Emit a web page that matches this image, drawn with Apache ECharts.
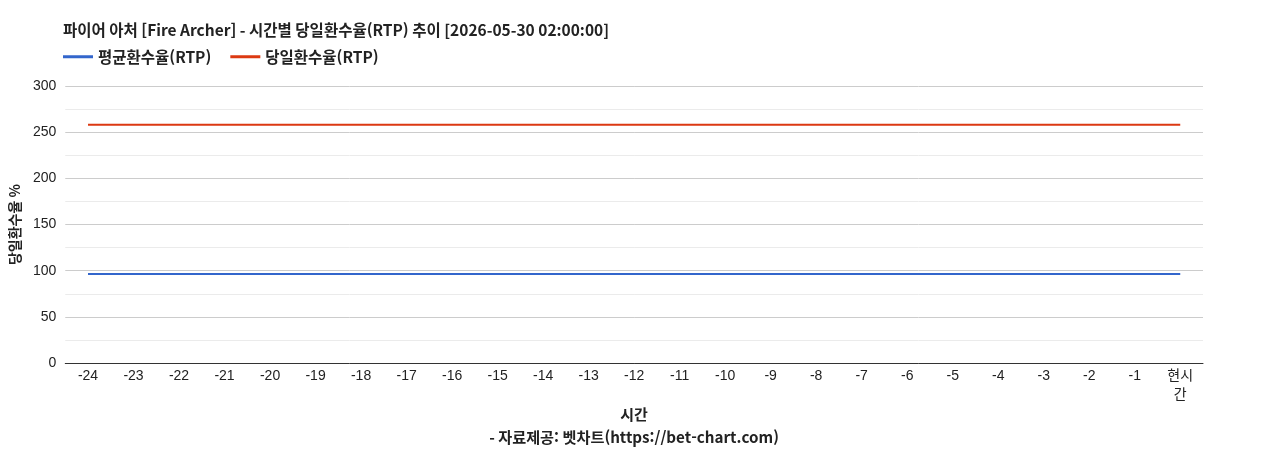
<!DOCTYPE html>
<html lang="ko">
<head>
  <meta charset="UTF-8">
  <title>RTP chart</title>
  <style>
    html, body, #chart {
      margin: 0;
      padding: 0;
      width: 100%;
      height: 100%;
      background: #fff;
    }
  </style>
</head>
<body>
<div id="chart"></div>

<script src="https://cdn.jsdelivr.net/npm/echarts@6/dist/echarts.min.js"></script>
<script>
  var hours = ['-24', '-23', '-22', '-21', '-20', '-19', '-18', '-17', '-16', '-15', '-14', '-13',
    '-12', '-11', '-10', '-9', '-8', '-7', '-6', '-5', '-4', '-3', '-2', '-1', '현시간'];
  var avgRtp = [96.4, 96.4, 96.4, 96.4, 96.4, 96.4, 96.4, 96.4, 96.4, 96.4, 96.4, 96.4,
    96.4, 96.4, 96.4, 96.4, 96.4, 96.4, 96.4, 96.4, 96.4, 96.4, 96.4, 96.4, 96.4];
  var dayRtp = [258, 258, 258, 258, 258, 258, 258, 258, 258, 258, 258, 258,
    258, 258, 258, 258, 258, 258, 258, 258, 258, 258, 258, 258, 258];

  var font = '"Noto Sans CJK KR", "Liberation Sans", Arial, sans-serif';
  var tickFont = '"Liberation Sans", Arial, "Noto Sans CJK KR", sans-serif';

  var chart = echarts.init(document.getElementById('chart'));

  chart.setOption({
    animation: false,
    textStyle: { fontFamily: font },
    title: [
      {
        text: '파이어 아처 [Fire Archer] - 시간별 당일환수율(RTP) 추이 [2026-05-30 02:00:00]',
        left: 58, top: 17,
        textStyle: { fontSize: 15.5, fontWeight: 'bold', color: '#222', fontFamily: font }
      },
      {
        text: '시간',
        left: 'center', top: 402,
        textStyle: { fontSize: 15, fontWeight: 'bold', color: '#222', fontFamily: font }
      },
      {
        text: '- 자료제공: 벳차트(https://bet-chart.com)',
        left: 'center', top: 425,
        textStyle: { fontSize: 15.2, fontWeight: 'bold', color: '#222', fontFamily: font }
      }
    ],
    legend: {
      left: 58, top: 44,
      itemWidth: 30, itemHeight: 3, itemGap: 19,
      icon: 'rect',
      textStyle: { fontSize: 15.5, fontWeight: 'bold', color: '#222', fontFamily: font },
      data: ['평균환수율(RTP)', '당일환수율(RTP)']
    },
    grid: { left: 63, right: 65, top: 86, bottom: 87 },
    xAxis: {
      type: 'category',
      data: hours,
      boundaryGap: true,
      axisLine: { lineStyle: { color: '#333', width: 1 } },
      axisTick: { show: false },
      axisLabel: {
        interval: 0, color: '#222', fontSize: 14, fontFamily: tickFont, margin: 4, lineHeight: 19,
        formatter: function (v) { return v.length > 2 && v.charAt(0) !== '-' ? v.slice(0, 2) + '\n' + v.slice(2) : v; }
      }
    },
    yAxis: {
      type: 'value',
      min: 0, max: 300, interval: 50,
      name: '당일환수율 %',
      nameLocation: 'middle',
      nameGap: 36,
      nameTextStyle: { fontSize: 14, fontWeight: 'bold', color: '#222', fontFamily: font },
      axisLine: { show: false },
      axisTick: { show: false },
      axisLabel: { color: '#222', fontSize: 14, fontFamily: tickFont, margin: 9 },
      splitLine: { lineStyle: { color: '#cccccc', width: 1 } },
      minorTick: { show: false, splitNumber: 2 },
      minorSplitLine: { show: true, lineStyle: { color: '#ebebeb', width: 1 } }
    },
    series: [
      {
        name: '평균환수율(RTP)',
        type: 'line',
        data: avgRtp,
        symbol: 'none',
        color: '#3366cc',
        lineStyle: { width: 2 }
      },
      {
        name: '당일환수율(RTP)',
        type: 'line',
        data: dayRtp,
        symbol: 'none',
        color: '#dc3912',
        lineStyle: { width: 2 }
      }
    ]
  });
</script>
</body>
</html>
